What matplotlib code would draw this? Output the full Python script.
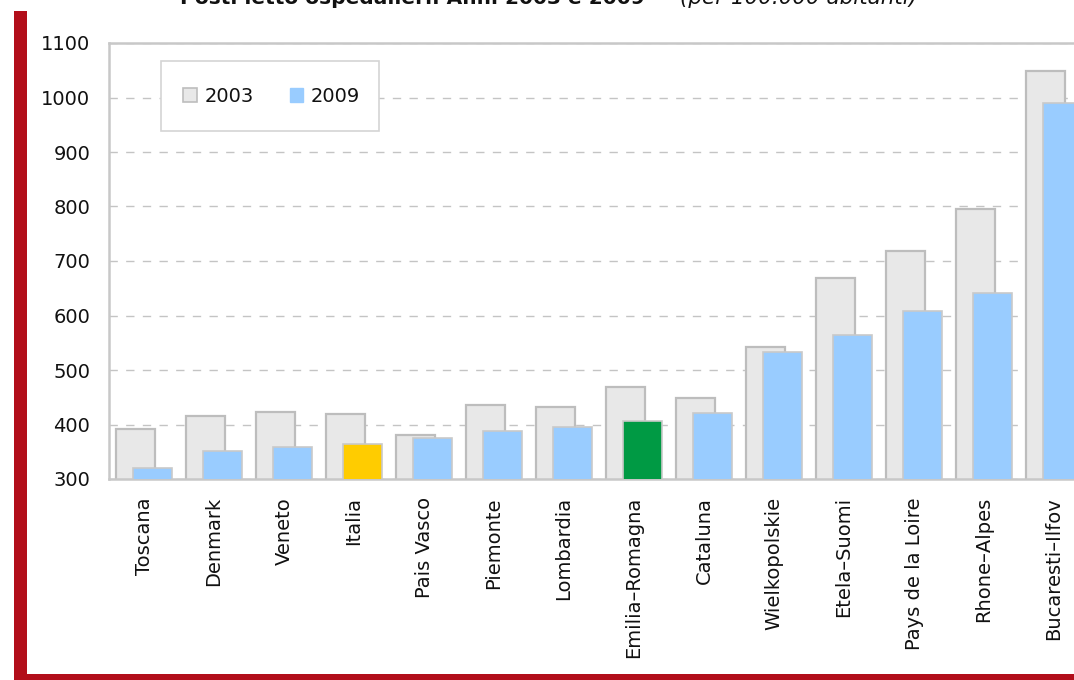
import matplotlib
matplotlib.use("Agg")
import matplotlib.pyplot as plt
from matplotlib.patches import Rectangle, Patch
import numpy as np

categories = ["Toscana", "Denmark", "Veneto", "Italia", "Pais Vasco", "Piemonte",
              "Lombardia", "Emilia–Romagna", "Cataluna", "Wielkopolskie",
              "Etela–Suomi", "Pays de la Loire", "Rhone–Alpes", "Bucaresti–Ilfov"]
values_2003 = [392, 415, 423, 419, 381, 435, 432, 468, 448, 543, 668, 719, 796, 1049]
values_2009 = [320, 351, 358, 364, 375, 388, 395, 406, 421, 533, 564, 608, 641, 989]
yticks = [300, 400, 500, 600, 700, 800, 900, 1000, 1100]

c2003, e2003 = "#E8E8E8", "#BDBDBD"
c2009, e2009 = "#99CCFF", "#C9C9C9"
special = {"Italia": "#FFCC00", "Emilia–Romagna": "#009A44"}

W, H = 1074, 680
fig = plt.figure(figsize=(W / 100, H / 100), dpi=100)
ax = fig.add_axes([109 / W, 1 - 479 / H, 980 / W, 436 / H])

x = np.arange(len(categories))
bw = 0.557
off = 0.121
ax.bar(x - off, values_2003, width=bw, color=c2003, edgecolor=e2003,
       linewidth=1.6, zorder=2, label="2003")
cols = [special.get(c, c2009) for c in categories]
ax.bar(x + off, values_2009, width=bw, color=cols, edgecolor=e2009,
       linewidth=1.2, zorder=3, label="2009")

ax.set_xlim(-0.5, len(categories) - 0.5)
ax.set_ylim(300, 1100)
ax.set_yticks(yticks)
ax.set_xticks(x)
ax.set_xticklabels(categories, rotation=90, va="top", ha="center")
ax.tick_params(axis="both", length=0, labelsize=14, colors="#111111")
ax.tick_params(axis="y", pad=13.5)
ax.tick_params(axis="x", pad=13)

ax.yaxis.grid(True, color="#C4C4C4", linestyle=(0, (6, 6)), linewidth=1.0, zorder=0)
ax.set_axisbelow(True)
for s in ["left", "bottom", "top", "right"]:
    ax.spines[s].set_color("#C8C8C8")
    ax.spines[s].set_linewidth(1.8)

# Legend box (drawn separately for exact size) and legend content
ax.add_patch(Rectangle((161 / W, 1 - 131 / H), 218 / W, 70 / H, transform=fig.transFigure,
                       facecolor="white", edgecolor="#D4D4D4", linewidth=1.2, zorder=5))
handles = [Patch(facecolor=c2003, edgecolor=e2003, linewidth=1.2, label="2003"),
           Patch(facecolor=c2009, edgecolor=c2009, linewidth=1.0, label="2009")]
leg = ax.legend(handles=handles, ncol=2, loc="center left",
                bbox_to_anchor=(183 / W, 1 - 96 / H), bbox_transform=fig.transFigure,
                fontsize=14, frameon=False, borderpad=0,
                handlelength=0.7, handleheight=0.7, handletextpad=0.4,
                columnspacing=1.85, borderaxespad=0)
leg.set_zorder(6)
for t in leg.get_texts():
    t.set_color("#111111")

# Title (cut off at top of the image, as in the reference)
fig.text(180 / W, 1 - 4 / H, "Posti letto ospedalieri. Anni 2003 e 2009",
         fontsize=14.5, fontweight="bold", ha="left", va="baseline", color="#111111")
fig.text(680 / W, 1 - 4 / H, "(per 100.000 abitanti)",
         fontsize=15.5, fontstyle="italic", ha="left", va="baseline", color="#111111")

red = "#B20E1A"
fig.patches.append(Rectangle((14 / W, 0), 13 / W, 1 - 11 / H, transform=fig.transFigure,
                             facecolor=red, edgecolor="none", zorder=10))
fig.patches.append(Rectangle((14 / W, 0), 1 - 14 / W, 6 / H, transform=fig.transFigure,
                             facecolor=red, edgecolor="none", zorder=10))

fig.savefig("out.png", dpi=100)
